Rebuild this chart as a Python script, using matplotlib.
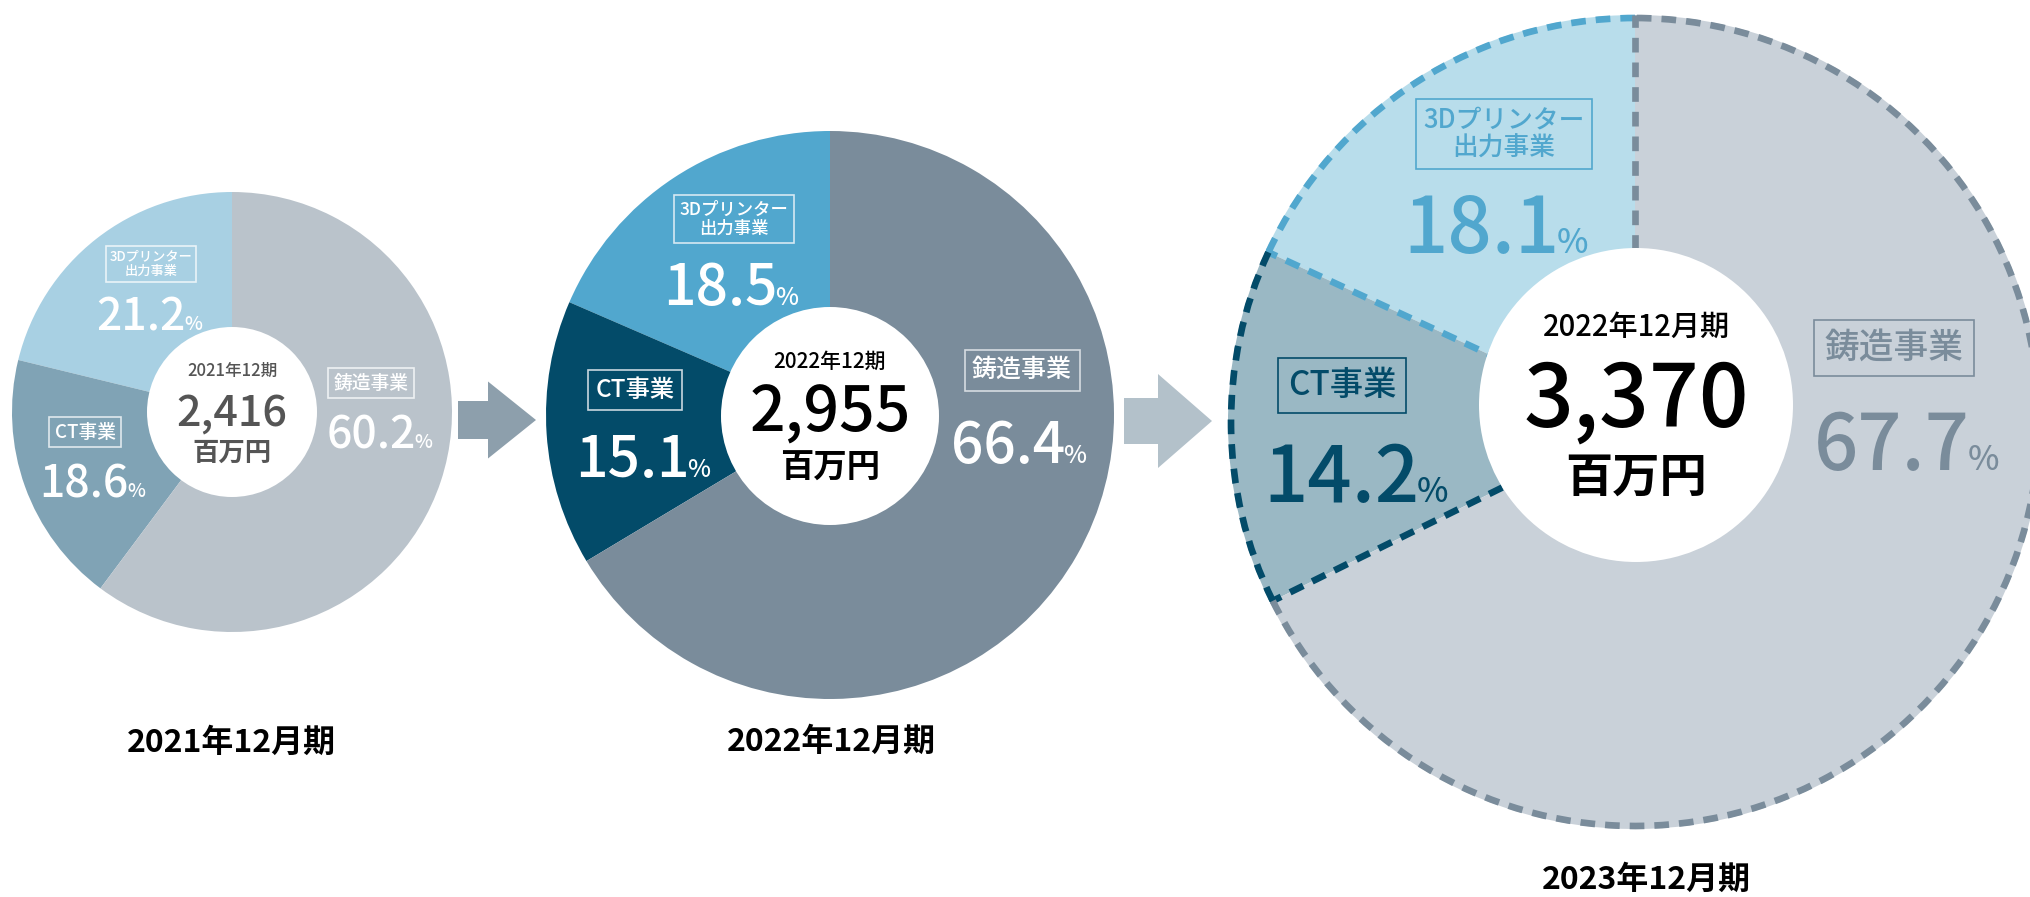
import numpy as np
import matplotlib
matplotlib.use("Agg")
import matplotlib.pyplot as plt
from matplotlib.patches import Circle, Arc

plt.rcParams['font.family'] = ['Noto Sans CJK JP', 'DejaVu Sans']

W, H = 2031, 897

# data
segments = ["3Dプリンター\n出力事業", "CT事業", "鋳造事業"]
periods = ["2021年12月期", "2022年12月期", "2023年12月期"]
center_titles = ["2021年12期", "2022年12期", "2022年12月期"]
totals = ["2,416", "2,955", "3,370"]
unit = "百万円"
share_2021 = [21.2, 18.6, 60.2]
share_2022 = [18.5, 15.1, 66.4]
share_2023 = [18.1, 14.2, 67.7]

fig = plt.figure(figsize=(W / 100, H / 100), dpi=100)
ax = fig.add_axes([0, 0, 1, 1])


def frame():
  ax.set_xlim(0, W)
  ax.set_ylim(0, H)
  ax.set_aspect('equal')
  ax.axis('off')


def Y(y):
  # picture coords have y going down
  return H - y


def donut(shares, cx, cy, r, colors):
  ax.pie(shares, colors=colors, startangle=90, counterclock=True,
         center=(cx, Y(cy)), radius=r, wedgeprops=dict(linewidth=0))
  frame()  # pie() resets the limits


def hole(cx, cy, r):
  ax.add_patch(Circle((cx, Y(cy)), r, fc='white', ec='none', zorder=3))


def pct(value, x, y, size, color):
  # number + smaller % sign, sharing the baseline
  t = ax.text(x, Y(y), "%.1f" % value, fontsize=size, color=color,
              ha='center', va='baseline', fontweight='medium', zorder=5)
  rend = fig.canvas.get_renderer()
  bb = t.get_window_extent(rend)
  x1 = ax.transData.inverted().transform((bb.x1, bb.y0))[0]
  ax.text(x1 - size * 0.04, Y(y), "%", fontsize=size * 0.43, color=color,
          ha='left', va='baseline', fontweight='medium', zorder=5)


def tag(text, x, y, size, color, edge):
  ax.text(x, Y(y), text, fontsize=size, color=color, ha='center', va='center',
          linespacing=1.05, fontweight='medium', zorder=5,
          bbox=dict(boxstyle='square,pad=0.3', fc='none', ec=edge, lw=1.2))


def middle(cx, cy_title, title, title_size, total, total_y, total_size,
           unit_y, unit_size, color):
  ax.text(cx, Y(cy_title), title, fontsize=title_size, color=color,
          ha='center', va='center', fontweight='medium', zorder=5)
  ax.text(cx, Y(total_y), total, fontsize=total_size, color=color,
          ha='center', va='baseline', fontweight='medium', zorder=5)
  ax.text(cx, Y(unit_y), unit, fontsize=unit_size, color=color,
          ha='center', va='center', fontweight='bold', zorder=5)


frame()

# ---- 2021 ----
c1 = ['#a8d0e3', '#80a3b5', '#bac3cb']
donut(share_2021, 232, 412, 220, c1)
hole(232, 412, 85)
tag(segments[0], 151, 264, 9.5, 'white', '#e9f3f8')
tag(segments[1], 85, 432, 13.5, 'white', '#dfe8ed')
tag(segments[2], 371, 383, 13.5, 'white', '#eef1f3')
pct(share_2021[0], 141, 330, 32, 'white')
pct(share_2021[1], 84, 497, 32, 'white')
pct(share_2021[2], 371, 448, 32, 'white')
middle(232, 371, center_titles[0], 12, totals[0], 426, 31, 453, 19, '#555555')

# ---- 2022 ----
c2 = ['#51a7ce', '#034b69', '#7a8c9b']
donut(share_2022, 830, 415, 284, c2)
hole(830, 416, 109)
tag(segments[0], 734, 219, 12.5, 'white', '#d6e9f3')
tag(segments[1], 635, 390, 17.5, 'white', '#c9d7df')
tag(segments[2], 1022, 370, 18, 'white', '#d6dce1')
pct(share_2022[0], 720, 305, 41, 'white')
pct(share_2022[1], 632, 477, 41, 'white')
pct(share_2022[2], 1008, 463, 41, 'white')
middle(830, 362, center_titles[1], 15, totals[1], 432, 45, 468, 24, 'black')

# ---- 2023 (forecast, dashed) ----
c3 = ['#b8ddeb', '#9ab8c4', '#c9d1d9']
l3 = ['#51a7ce', '#034b69', '#7a8c9b']
cx3, cy3, r3 = 1635, 422, 407
donut(share_2023, cx3, cy3, r3, c3)
edges = 90 + 360 * np.cumsum([0] + share_2023) / 100
dash = (0, (2.2, 1.5))
for i, col in enumerate(l3):
  ax.add_patch(Arc((cx3, Y(cy3)), 2 * r3 - 6, 2 * r3 - 6, theta1=edges[i],
                   theta2=edges[i + 1], color=col, lw=4.8, ls=dash, zorder=2))
  a = np.deg2rad(edges[i + 1])
  ax.plot([cx3, cx3 + r3 * np.cos(a)], [Y(cy3), Y(cy3) + r3 * np.sin(a)],
          color=col, lw=4.8, ls=dash, zorder=2)
hole(1636, 405, 157)
tag(segments[0], 1504, 134, 18.5, l3[0], l3[0])
tag(segments[1], 1342, 385, 24, l3[1], l3[1])
tag(segments[2], 1894, 348, 25, l3[2], l3[2])
pct(share_2023[0], 1481, 253, 56, l3[0])
pct(share_2023[1], 1341, 502, 56, l3[1])
pct(share_2023[2], 1892, 470, 56, l3[2])
middle(1636, 327, center_titles[2], 21, totals[2], 427, 63, 478, 34, 'black')

# arrows between the years
ax.arrow(458, Y(420), 78, 0, width=38, head_width=77, head_length=48,
         length_includes_head=True, fc='#8d9fac', ec='none')
ax.arrow(1124, Y(421), 88, 0, width=46, head_width=94, head_length=54,
         length_includes_head=True, fc='#b3c1ca', ec='none')

# period captions
for label, x, y in zip(periods, [231, 831, 1646], [743, 742, 880]):
  ax.text(x, Y(y), label, fontsize=23, fontweight='bold', color='black',
          ha='center', va='center')

frame()
fig.savefig("out.png", dpi=100)
